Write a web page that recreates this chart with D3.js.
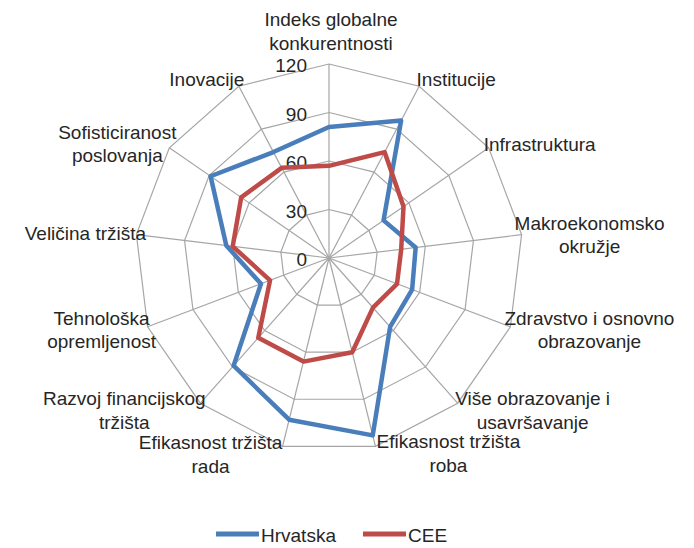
<!DOCTYPE html>
<html>
<head>
<meta charset="utf-8">
<script src="https://cdn.jsdelivr.net/npm/d3@7"></script>
<style>
  html, body { margin: 0; padding: 0; background: #fff; }
  svg { display: block; }
  text { font-family: "Liberation Sans", Arial, sans-serif; fill: #262626; }
</style>
</head>
<body>
<svg id="chart" width="694" height="548"></svg>
<script>
// ---- data ----
const categories = [
  ["Indeks globalne", "konkurentnosti"],
  ["Institucije"],
  ["Infrastruktura"],
  ["Makroekonomsko", "okružje"],
  ["Zdravstvo i osnovno", "obrazovanje"],
  ["Više obrazovanje i", "usavršavanje"],
  ["Efikasnost tržišta", "roba"],
  ["Efikasnost tržišta", "rada"],
  ["Razvoj financijskog", "tržišta"],
  ["Tehnološka", "opremljenost"],
  ["Veličina tržišta"],
  ["Sofisticiranost", "poslovanja"],
  ["Inovacije"]
];
const hrvatska = [81, 96, 41, 54, 55, 57, 113, 103, 89, 45, 64, 89, 74];
const cee      = [57, 74, 56, 45, 45, 41, 60, 66, 66, 39, 60, 66, 63];
const tickValues = [0, 30, 60, 90, 120];
const seriesNames = ["Hrvatska", "CEE"];

// ---- layout ----
const cx = 329, cy = 258, R = 194;
const n = categories.length;
const svg = d3.select("#chart");
const r = d3.scaleLinear().domain([0, 120]).range([0, R]);
const ang = d3.scaleLinear().domain([0, n]).range([0, 2 * Math.PI]);
const colors = {Hrvatska: "#4A7EBB", CEE: "#BE4B48"};

function pt(i, v) {
  const a = ang(i);
  return [cx + r(v) * Math.sin(a), cy - r(v) * Math.cos(a)];
}

const g = svg.append("g");

// grid polygons
tickValues.filter(t => t > 0).forEach(t => {
  const pts = d3.range(n).map(i => pt(i, t));
  g.append("polygon")
    .attr("points", pts.map(p => p.join(",")).join(" "))
    .attr("fill", "none").attr("stroke", "#A6A6A6").attr("stroke-width", 1.2);
});
// spokes
d3.range(n).forEach(i => {
  const p = pt(i, 120);
  g.append("line").attr("x1", cx).attr("y1", cy).attr("x2", p[0]).attr("y2", p[1])
    .attr("stroke", "#A6A6A6").attr("stroke-width", 1.2);
});

// tick labels
g.selectAll(".tick").data(tickValues).enter().append("text")
  .attr("x", cx - 22).attr("y", d => cy - r(d) + 8)
  .attr("text-anchor", "end").attr("font-size", 19)
  .text(d => d);

// series
const line = d3.line().curve(d3.curveLinearClosed);
[["Hrvatska", hrvatska], ["CEE", cee]].forEach(([name, vals]) => {
  g.append("path")
    .attr("d", line(vals.map((v, i) => pt(i, v))))
    .attr("fill", "none").attr("stroke", colors[name])
    .attr("stroke-width", 4.5).attr("stroke-linejoin", "round");
});

// category labels (offsets from spoke endpoints)
const labelDx = [2, 37, 51, 68, 79, 75, 73, -72, -76, -46, -51, -52, -32];
const labelDy = [-38, 0, 3, -5, -2, 2, 2, 3, 2, -2, 5, -9, 0];
categories.forEach((lines, i) => {
  const p = pt(i, 120);
  const t = g.append("text").attr("text-anchor", "middle").attr("font-size", 19);
  lines.forEach((s, k) => {
    t.append("tspan").attr("x", p[0] + labelDx[i]).attr("y", p[1] + labelDy[i] + k * 23.5).text(s);
  });
});

// legend
const leg = svg.append("g");
const legX = [216, 363];
seriesNames.forEach((name, k) => {
  leg.append("line").attr("x1", legX[k]).attr("x2", legX[k] + 43)
    .attr("y1", 534).attr("y2", 534)
    .attr("stroke", colors[name]).attr("stroke-width", 5);
  leg.append("text").attr("x", legX[k] + 45).attr("y", 542).attr("font-size", 19).text(name);
});
</script>
</body>
</html>
